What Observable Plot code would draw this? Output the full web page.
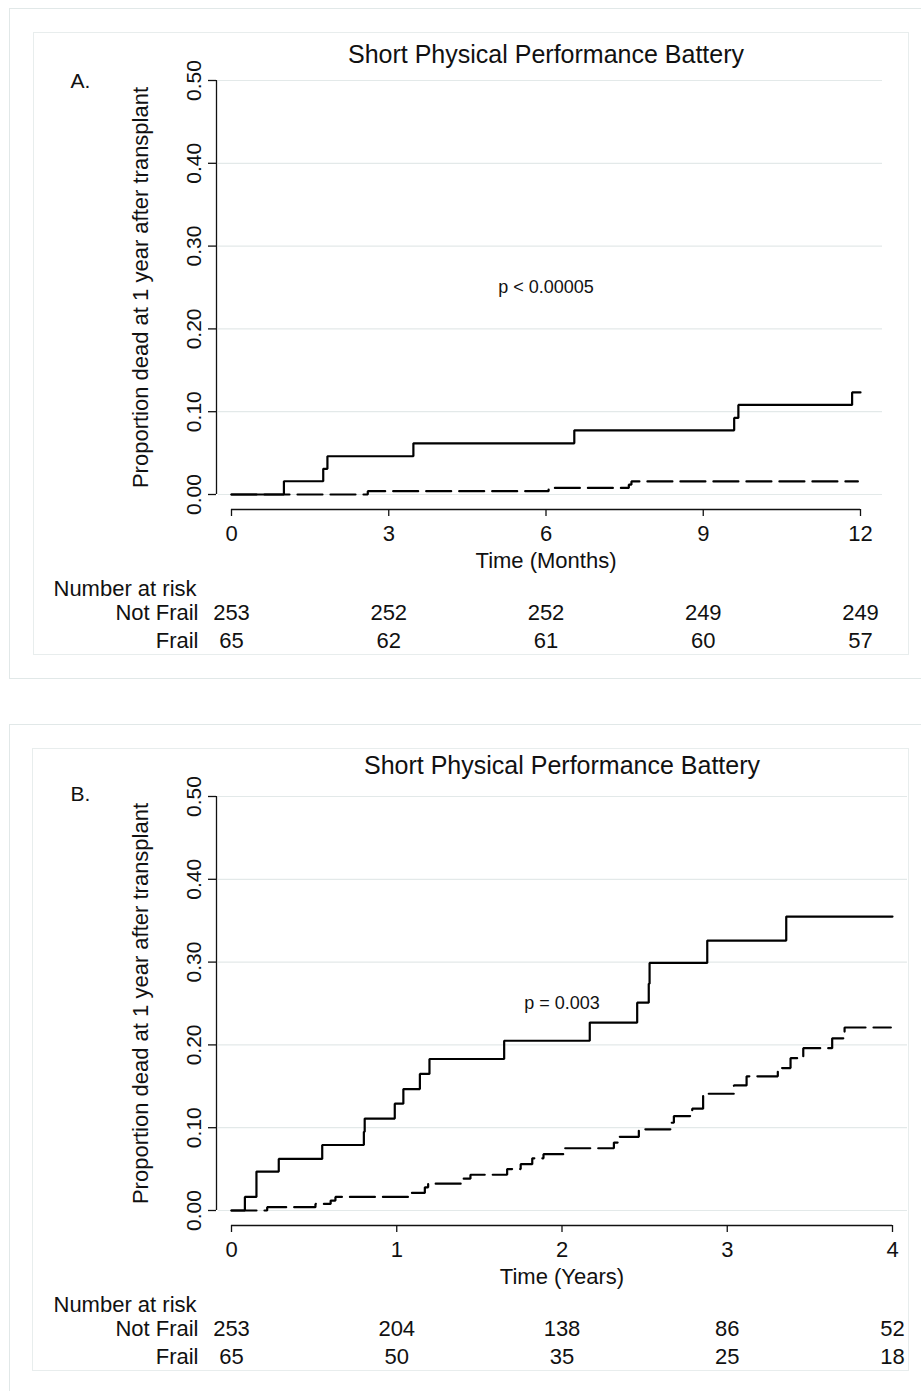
<!DOCTYPE html>
<html>
<head>
<meta charset="utf-8">
<script src="https://cdn.jsdelivr.net/npm/d3@7"></script>
<script src="https://cdn.jsdelivr.net/npm/@observablehq/plot@0.6"></script>
<style>
  body { margin: 0; background: #fff; }
  #page { position: relative; width: 921px; height: 1391px; overflow: hidden; background: #fff;
          font-family: "Liberation Sans", Arial, Helvetica, sans-serif; }
  .box { position: absolute; box-sizing: border-box; }
  .outer { border: 1.5px solid #e1e8e8; }
  .inner { border: 1.5px solid #e8eded; }
  .panel { position: absolute; left: 0; }
</style>
</head>
<body>
<div id="page">
  <div class="box outer" style="left:9px;top:8px;width:940px;height:671px"></div>
  <div class="box inner" style="left:33px;top:32px;width:876px;height:623px"></div>
  <div class="box outer" style="left:9px;top:724px;width:940px;height:700px"></div>
  <div class="box inner" style="left:32px;top:748px;width:877px;height:623px"></div>
  <div id="panelA" class="panel" style="top:0px"></div>
  <div id="panelB" class="panel" style="top:716px"></div>
</div>
<script>
// ---------- data ----------
const chartTitle = "Short Physical Performance Battery";
const yAxisLabel = "Proportion dead at 1 year after transplant";
const propTicks = [0, 0.1, 0.2, 0.3, 0.4, 0.5];
const groupLabels = ["Not Frail", "Frail"];
const riskHeader = "Number at risk";

// Panel A (months)
const aLetter = "A.";
const aXLabel = "Time (Months)";
const aTicks = [0, 3, 6, 9, 12];
const aPText = "p < 0.00005";
const aFrailTime = [0, 1.0, 1.75, 1.83, 3.47, 6.54, 9.59, 9.67, 11.84, 12.0];
const aFrailProp = [0, 0.0160, 0.0310, 0.0462, 0.0618, 0.0775, 0.0925, 0.1082, 0.1233, 0.1233];
const aNotFrailTime = [0, 2.6, 6.05, 7.58, 7.63, 11.95];
const aNotFrailProp = [0, 0.0040, 0.0080, 0.0119, 0.0158, 0.0158];
const aRiskNotFrail = [253, 252, 252, 249, 249];
const aRiskFrail = [65, 62, 61, 60, 57];

// Panel B (years)
const bLetter = "B.";
const bXLabel = "Time (Years)";
const bTicks = [0, 1, 2, 3, 4];
const bPText = "p = 0.003";
const bFrailTime = [0, 0.081, 0.151, 0.286, 0.549, 0.801, 0.806, 0.988, 1.04, 1.14, 1.198, 1.65, 2.168, 2.455, 2.525, 2.53, 2.879, 3.357, 4.0];
const bFrailProp = [0, 0.0164, 0.047, 0.0623, 0.0791, 0.095, 0.111, 0.129, 0.1466, 0.165, 0.183, 0.205, 0.227, 0.251, 0.274, 0.299, 0.326, 0.355, 0.355];
const bNotFrailTime = [0, 0.216, 0.508, 0.60, 0.629, 1.069, 1.17, 1.19, 1.396, 1.446, 1.668, 1.75, 1.82, 1.888, 2.011, 2.314, 2.344, 2.465, 2.657, 2.677, 2.788, 2.854, 3.04, 3.117, 3.306, 3.383, 3.46, 3.635, 3.71, 3.99];
const bNotFrailProp = [0, 0.004, 0.008, 0.012, 0.0164, 0.0212, 0.028, 0.0324, 0.0384, 0.0432, 0.050, 0.056, 0.063, 0.068, 0.0752, 0.082, 0.089, 0.098, 0.106, 0.114, 0.123, 0.141, 0.151, 0.162, 0.172, 0.184, 0.196, 0.208, 0.221, 0.221];
const bRiskNotFrail = [253, 204, 138, 86, 52];
const bRiskFrail = [65, 50, 35, 25, 18];

// ---------- drawing ----------
function panel(cfg) {
  const frail = cfg.frailT.map((t, i) => ({t, p: cfg.frailP[i]}));
  const notFrail = cfg.notT.map((t, i) => ({t, p: cfg.notP[i]}));
  const risk = cfg.ticks.map((t, i) => ({t, nf: cfg.riskNot[i], f: cfg.riskFrail[i]}));
  const xMax = cfg.ticks[cfg.ticks.length - 1];
  const mid = {lineAnchor: "middle"};
  return Plot.plot({
    width: 921,
    height: 680,
    marginLeft: 231,
    marginRight: cfg.marginRight,
    marginTop: 80,
    marginBottom: 186,
    x: {domain: [0, xMax]},
    y: {domain: [0, 0.5]},
    style: {fontFamily: '"Liberation Sans", Arial, Helvetica, sans-serif', fontSize: "21px", background: "transparent", color: "#111", overflow: "visible"},
    marks: [
      Plot.ruleY(propTicks, {stroke: "#e3e9e9", strokeWidth: 1.2, insetLeft: -13, insetRight: cfg.gridInsetRight}),
      Plot.ruleX([0], {y1: 0, y2: 0.5, dx: -15, stroke: "#111", strokeWidth: 1.3}),
      Plot.axisY({ticks: propTicks, tickFormat: d3.format(".2f"), tickSize: 8, dx: -15, tickRotate: -90, tickPadding: 8, fontSize: 21, label: null, strokeWidth: 1.3}),
      Plot.ruleY([0], {x1: 0, x2: xMax, dy: 15, stroke: "#111", strokeWidth: 1.3}),
      Plot.axisX({ticks: cfg.ticks, tickFormat: d => String(d), tickSize: 7, dy: 15, tickPadding: 9, fontSize: 22, label: null, strokeWidth: 1.3}),
      Plot.line(notFrail, {x: "t", y: "p", curve: "step-after", stroke: "#000", strokeWidth: 2.2, strokeDasharray: "25,8", strokeLinejoin: "miter"}),
      Plot.line(frail, {x: "t", y: "p", curve: "step-after", stroke: "#000", strokeWidth: 2.2, strokeLinejoin: "miter"}),
      Plot.text([chartTitle], {text: d => d, frameAnchor: "top", dy: cfg.titleDy, fontSize: 25, ...mid}),
      Plot.text([cfg.letter], {text: d => d, frameAnchor: "top-left", dx: -161, dy: cfg.letterDy, textAnchor: "start", fontSize: 21, ...mid}),
      Plot.text([yAxisLabel], {text: d => d, frameAnchor: "left", dx: -91, rotate: -90, textAnchor: "middle", fontSize: 22, ...mid}),
      Plot.text([cfg.pText], {text: d => d, frameAnchor: "middle", fontSize: 18, ...mid}),
      Plot.text([cfg.xLabel], {text: d => d, frameAnchor: "bottom", dy: 66, fontSize: 22, ...mid}),
      Plot.text([riskHeader], {text: d => d, frameAnchor: "bottom-left", dx: -178, dy: 94, textAnchor: "start", fontSize: 22, ...mid}),
      Plot.text([groupLabels[0]], {text: d => d, frameAnchor: "bottom-left", dx: -33, dy: 118, textAnchor: "end", fontSize: 22, ...mid}),
      Plot.text([groupLabels[1]], {text: d => d, frameAnchor: "bottom-left", dx: -33, dy: 146, textAnchor: "end", fontSize: 22, ...mid}),
      Plot.text(risk, {x: "t", text: "nf", frameAnchor: "bottom", dy: 118, fontSize: 22, ...mid}),
      Plot.text(risk, {x: "t", text: "f", frameAnchor: "bottom", dy: 146, fontSize: 22, ...mid})
    ]
  });
}

document.getElementById("panelA").append(panel({
  letter: aLetter, xLabel: aXLabel, ticks: aTicks, pText: aPText,
  frailT: aFrailTime, frailP: aFrailProp, notT: aNotFrailTime, notP: aNotFrailProp,
  riskNot: aRiskNotFrail, riskFrail: aRiskFrail,
  marginRight: 61, gridInsetRight: -22, titleDy: -26, letterDy: 1
}));
document.getElementById("panelB").append(panel({
  letter: bLetter, xLabel: bXLabel, ticks: bTicks, pText: bPText,
  frailT: bFrailTime, frailP: bFrailProp, notT: bNotFrailTime, notP: bNotFrailProp,
  riskNot: bRiskNotFrail, riskFrail: bRiskFrail,
  marginRight: 29, gridInsetRight: -15, titleDy: -31, letterDy: -2
}));
</script>
</body>
</html>
